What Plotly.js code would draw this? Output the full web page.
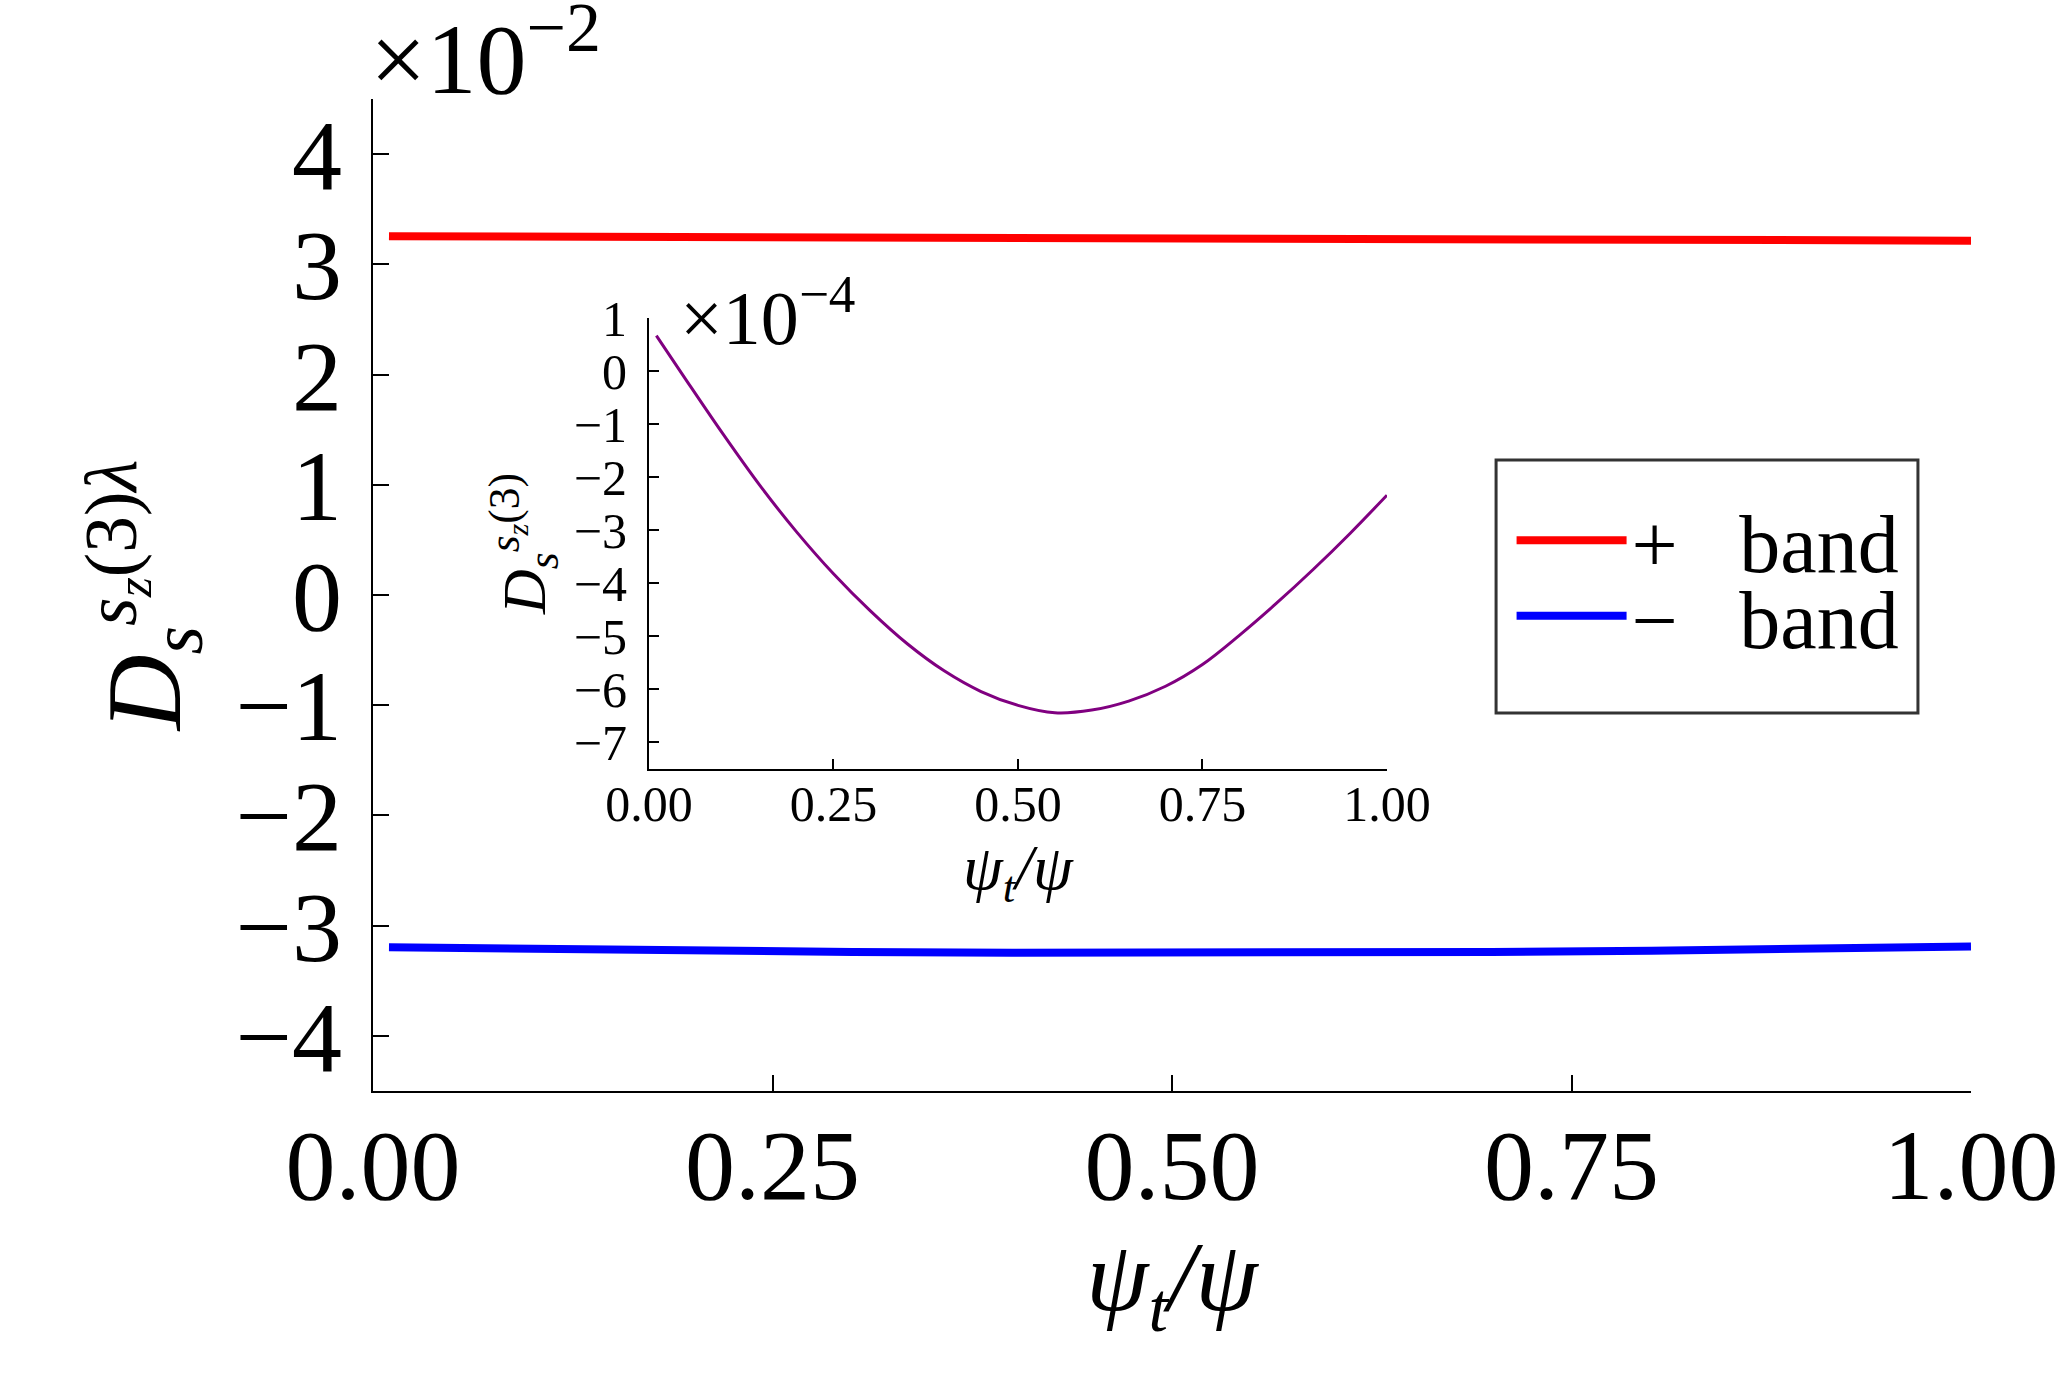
<!DOCTYPE html>
<html>
<head>
<meta charset="utf-8">
<script src="https://cdn.plot.ly/plotly-3.0.1.min.js"></script>
<style>
  body { margin: 0; background: #fff; }
  #plot { width: 2067px; height: 1379px; }
</style>
</head>
<body>
<div id="plot"></div>
<script>
// main panel, values in units of 1e-2
const psiMain = [0.01, 0.1, 0.2, 0.3, 0.4, 0.5, 0.6, 0.7, 0.8, 0.9, 1.0];
const plusBand = [3.255, 3.251, 3.247, 3.243, 3.239, 3.235, 3.231, 3.227, 3.223, 3.219, 3.215];
const minusBand = [-3.195, -3.212, -3.227, -3.238, -3.245, -3.248, -3.246, -3.24, -3.228, -3.21, -3.188];

// inset, values in units of 1e-4
const psiInset = [0.01, 0.05, 0.10, 0.15, 0.20, 0.25, 0.30, 0.35, 0.40, 0.45, 0.50,
                  0.55, 0.60, 0.65, 0.70, 0.75, 0.80, 0.85, 0.90, 0.95, 1.00];
const insetVals = [0.67, -0.16, -1.18, -2.15, -3.03, -3.82, -4.52, -5.14, -5.65, -6.04, -6.30,
                   -6.44, -6.39, -6.22, -5.94, -5.53, -4.98, -4.38, -3.74, -3.06, -2.34];

const mainTicks = [0, 0.25, 0.5, 0.75, 1];
const mainTickText = ['0.00', '0.25', '0.50', '0.75', '1.00'];
const mainYTicks = [-4, -3, -2, -1, 0, 1, 2, 3, 4];
const insetYTicks = [-7, -6, -5, -4, -3, -2, -1, 0, 1];

const FONT = '"Liberation Serif", "DejaVu Serif", serif';
const minus = v => (v < 0 ? '\u2212' + Math.abs(v) : String(v));

let data = [
    {
        x: psiMain, y: plusBand, mode: 'lines', name: '+\u00a0\u00a0\u00a0band',
        line: { color: '#ff0000', width: 8 }, legend: 'legend'
    },
    {
        x: psiMain, y: minusBand, mode: 'lines', name: '\u2212\u00a0\u00a0\u00a0band',
        line: { color: '#0000ff', width: 8 }, legend: 'legend2'
    },
    {
        x: psiInset, y: insetVals, mode: 'lines', showlegend: false,
        xaxis: 'x2', yaxis: 'y2',
        line: { color: '#800080', width: 3, shape: 'spline' }
    }
];

const axisCommon = {
    showgrid: false, zeroline: false, showline: true,
    linecolor: '#000', linewidth: 2, ticks: 'inside', tickcolor: '#000',
    tickwidth: 2
};

let layout = {
    width: 2067, height: 1379,
    margin: { l: 373, r: 96, t: 99, b: 288 },
    paper_bgcolor: '#fff', plot_bgcolor: '#fff',
    font: { family: FONT, color: '#000' },
    xaxis: Object.assign({}, axisCommon, {
        range: [0, 1], domain: [0, 1], ticklen: 16,
        tickvals: mainTicks, ticktext: mainTickText,
        tickfont: { size: 100 }, ticklabelstandoff: -14,
        title: { text: '<i>ψ<sub>t</sub>/ψ</i>', font: { size: 100 }, standoff: 6 }
    }),
    yaxis: Object.assign({}, axisCommon, {
        range: [-4.5, 4.5], domain: [0, 1], ticklen: 16,
        tickvals: mainYTicks, ticktext: mainYTicks.map(minus),
        tickfont: { size: 100 }, ticklabelstandoff: 9,
        title: {
            text: '<i>D</i><sub><i>s</i></sub><sup><i>s</i><sub><i>z</i></sub>(3)<i>λ</i></sup>',
            font: { size: 105 }, standoff: 20
        }
    }),
    xaxis2: Object.assign({}, axisCommon, {
        anchor: 'y2', domain: [0.1727, 0.6345], range: [0, 1], ticklen: 10,
        tickvals: mainTicks, ticktext: mainTickText,
        tickfont: { size: 50 }, ticklabelstandoff: -10,
        title: { text: '<i>ψ<sub>t</sub>/ψ</i>', font: { size: 64 }, standoff: 4 }
    }),
    yaxis2: Object.assign({}, axisCommon, {
        anchor: 'x2', domain: [0.3246, 0.7792], range: [-7.5, 1], ticklen: 10,
        tickvals: insetYTicks, ticktext: insetYTicks.map(minus),
        tickfont: { size: 50 }, ticklabelstandoff: 10,
        title: {
            text: '<i>D</i><sub><i>s</i></sub><sup><i>s</i><sub><i>z</i></sub>(3)</sup>',
            font: { size: 62 }, standoff: 8
        }
    }),
    legend: {
        x: 0.7125, y: 0.555, xanchor: 'left', yanchor: 'middle',
        bgcolor: 'rgba(0,0,0,0)', borderwidth: 0, itemwidth: 110,
        font: { size: 82 }
    },
    legend2: {
        x: 0.7125, y: 0.479, xanchor: 'left', yanchor: 'middle',
        bgcolor: 'rgba(0,0,0,0)', borderwidth: 0, itemwidth: 110,
        font: { size: 82 }
    },
    shapes: [
        {
            type: 'rect', xref: 'paper', yref: 'paper',
            x0: 0.7028, x1: 0.9668, y0: 0.3810, y1: 0.6361,
            line: { color: '#333', width: 3 }, fillcolor: 'rgba(0,0,0,0)'
        }
    ],
    annotations: [
        {
            text: '×10<sup>\u22122</sup>', xref: 'paper', yref: 'paper',
            x: 0, y: 1, xanchor: 'left', yanchor: 'bottom', yshift: -18, xshift: -5,
            showarrow: false, font: { size: 100 }
        },
        {
            text: '×10<sup>\u22124</sup>', xref: 'x2 domain', yref: 'y2 domain',
            x: 0.04, y: 1, xanchor: 'left', yanchor: 'middle', yshift: 6,
            showarrow: false, font: { size: 76 }
        }
    ]
};

Plotly.newPlot('plot', data, layout, { staticPlot: true });
</script>
</body>
</html>
